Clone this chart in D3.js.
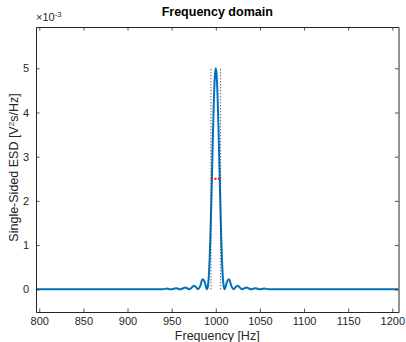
<!DOCTYPE html>
<html>
<head>
<meta charset="utf-8">
<script src="https://cdn.jsdelivr.net/npm/d3@7"></script>
<style>
  body { margin: 0; background: #fff; }
  svg { font-family: "Liberation Sans", Arial, sans-serif; }
</style>
</head>
<body>
<script>
// frequency samples [Hz] and single-sided ESD values [x1e-3 V^2 s/Hz]
var freq = [796, 900, 940, 945, 947.5, 950, 952.5, 955, 957.5, 960, 962.5, 965, 967.5, 970, 972.5, 975, 977.5, 980, 982.5, 985, 987.5, 990,
  991, 992, 993, 994, 995, 996, 997, 998, 999, 1000, 1001, 1002, 1003, 1004, 1005, 1006, 1007, 1008, 1009, 1010,
  1012.5, 1015, 1017.5, 1020, 1022.5, 1025, 1027.5, 1030, 1032.5, 1035, 1037.5, 1040, 1042.5, 1045, 1047.5, 1050, 1052.5, 1055, 1060, 1100, 1207];
var esd = [0, 0, 0, 0.017, 0, 0, 0.012, 0.025, 0.012, 0, 0.018, 0.041, 0.024, 0, 0.034, 0.081, 0.05, 0, 0.083, 0.225, 0.162, 0,
  0.06, 0.27, 0.68, 1.27, 2.03, 2.87, 3.69, 4.38, 4.84, 5.0, 4.84, 4.38, 3.69, 2.87, 2.03, 1.27, 0.68, 0.27, 0.06, 0,
  0.162, 0.225, 0.083, 0, 0.05, 0.081, 0.034, 0, 0.024, 0.041, 0.018, 0, 0.012, 0.025, 0.012, 0, 0.008, 0.017, 0, 0, 0];

// half-power marks
var bandEdges = [994.5, 1005.5];
var halfLevel = 2.5;
var peakLevel = 5;

var xTicks = [800, 850, 900, 950, 1000, 1050, 1100, 1150, 1200];
var yTicks = [0, 1, 2, 3, 4, 5];

var margin = {top: 27, right: 7.5, bottom: 30, left: 36},
    width = 406 - margin.left - margin.right,
    height = 312 - margin.top;

var x = d3.scaleLinear().domain([796.3, 1207]).range([0, width]);
var y = d3.scaleLinear().domain([-0.514, 5.934]).range([height, 0]);

var svg = d3.select("body").append("svg")
  .attr("width", 406)
  .attr("height", 342);

var g = svg.append("g")
  .attr("transform", "translate(" + margin.left + "," + margin.top + ")");

var axisColor = "#262626";

// data line
var line = d3.line()
  .x(function(d, i) { return x(freq[i]); })
  .y(function(d) { return y(d); })
  .curve(d3.curveMonotoneX);

g.append("defs").append("clipPath").attr("id", "clip")
  .append("rect").attr("width", width).attr("height", height);

g.append("path")
  .datum(esd)
  .attr("clip-path", "url(#clip)")
  .attr("fill", "none")
  .attr("stroke", "#0072BD")
  .attr("stroke-width", 2)
  .attr("d", line);

// dotted band edges
g.selectAll(".edge").data(bandEdges).enter().append("line")
  .attr("class", "edge")
  .attr("x1", function(d) { return x(d); })
  .attr("x2", function(d) { return x(d); })
  .attr("y1", y(0))
  .attr("y2", y(peakLevel))
  .attr("stroke", "#222")
  .attr("stroke-width", 1)
  .attr("stroke-dasharray", "1,2");

// red half level
g.append("line")
  .attr("x1", x(bandEdges[0]))
  .attr("x2", x(bandEdges[1]))
  .attr("y1", y(halfLevel))
  .attr("y2", y(halfLevel))
  .attr("stroke", "#FF0000")
  .attr("stroke-width", 2)
  .attr("stroke-dasharray", "2,1.5");

// axes (MATLAB style: ticks inside, box)
var xb = g.append("g").attr("transform", "translate(0," + height + ")")
  .call(d3.axisBottom(x).tickValues(xTicks).tickFormat(d3.format("d")).tickSizeInner(-3.5).tickSizeOuter(0).tickPadding(5));
var xt = g.append("g")
  .call(d3.axisTop(x).tickValues(xTicks).tickSizeInner(-3.5).tickSizeOuter(0).tickFormat(""));
var yl = g.append("g")
  .call(d3.axisLeft(y).tickValues(yTicks).tickFormat(d3.format("d")).tickSizeInner(-3.5).tickSizeOuter(0).tickPadding(7));
var yr = g.append("g").attr("transform", "translate(" + width + ",0)")
  .call(d3.axisRight(y).tickValues(yTicks).tickSizeInner(-3.5).tickSizeOuter(0).tickFormat(""));

[xb, xt, yl, yr].forEach(function(a) {
  a.select(".domain").attr("stroke", axisColor).attr("stroke-width", 1);
  a.selectAll(".tick line").attr("stroke", axisColor).attr("stroke-width", 0.8);
  a.selectAll(".tick text").attr("fill", axisColor).style("font-size", "11px")
    .style("font-family", "Liberation Sans, Arial, sans-serif");
});

// exponent label
var ex = svg.append("text")
  .attr("x", margin.left)
  .attr("y", 21)
  .attr("fill", axisColor)
  .style("font-size", "11px");
ex.append("tspan").text("\u00d710");
ex.append("tspan").attr("dy", -4).style("font-size", "7.5px").text("-3");

// title
svg.append("text")
  .attr("x", margin.left + width / 2)
  .attr("y", 16)
  .attr("text-anchor", "middle")
  .attr("fill", "#000")
  .style("font-size", "12.5px")
  .style("font-weight", "bold")
  .text("Frequency domain");

// x label
svg.append("text")
  .attr("x", margin.left + width / 2)
  .attr("y", 339.5)
  .attr("text-anchor", "middle")
  .attr("fill", axisColor)
  .style("font-size", "12.5px")
  .text("Frequency [Hz]");

// y label
var ylab = svg.append("text")
  .attr("transform", "translate(18," + (margin.top + height / 2 - 2) + ") rotate(-90)")
  .attr("text-anchor", "middle")
  .attr("fill", axisColor)
  .style("font-size", "12.5px");
ylab.append("tspan").text("Single-Sided ESD  [V");
ylab.append("tspan").attr("dy", -4).style("font-size", "8px").text("2");
ylab.append("tspan").attr("dy", 4).text("s/Hz]");
</script>
</body>
</html>
